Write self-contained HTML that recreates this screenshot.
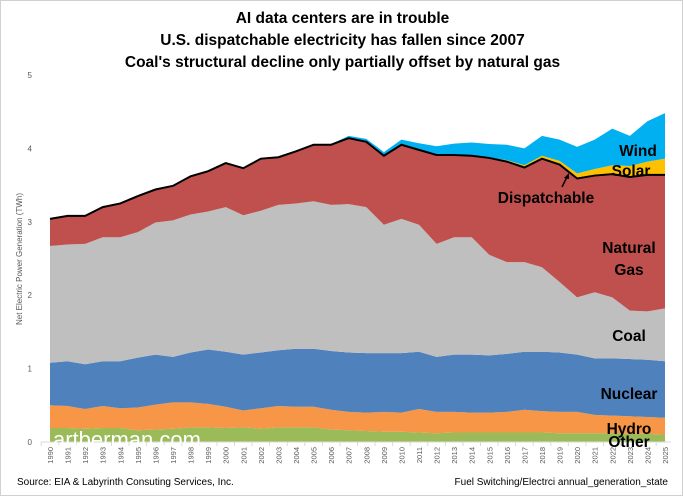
<!DOCTYPE html>
<html><head><meta charset="utf-8"><style>
body{margin:0;background:#fff}
#c{position:relative;width:683px;height:496px;overflow:hidden;font-family:"Liberation Sans",sans-serif;border:1px solid #d0d0d0;box-sizing:border-box}
.t{position:absolute;left:0;width:683px;text-align:center;font-weight:bold;font-size:15.5px;color:#000}
</style></head><body>
<div id="c">
<div class="t" style="top:9px">AI data centers are in trouble</div>
<div class="t" style="top:31px">U.S. dispatchable electricity has fallen since 2007</div>
<div class="t" style="top:53px">Coal's structural decline only partially offset by natural gas</div>
<svg id="s" width="683" height="496" style="position:absolute;left:0;top:0"></svg>
</div>
<script>
const years=[];for(let y=1990;y<=2025;y++)years.push(String(y));
const other=[0.19,0.19,0.18,0.19,0.19,0.16,0.17,0.18,0.2,0.2,0.19,0.2,0.18,0.2,0.2,0.2,0.17,0.16,0.15,0.14,0.14,0.13,0.12,0.13,0.13,0.13,0.13,0.13,0.13,0.12,0.12,0.12,0.12,0.11,0.11,0.1];
const hydro=[.31,.30,.27,.30,.27,.31,.34,.36,.34,.32,.29,.23,.28,.29,.28,.28,.27,.25,.25,.27,.26,.32,.29,.28,.27,.27,.28,.31,.29,.29,.29,.25,.24,.24,.23,.23];
const nuclear=[.58,.61,.61,.61,.64,.68,.68,.62,.68,.74,.75,.76,.76,.76,.79,.79,.80,.81,.81,.80,.81,.78,.75,.78,.79,.78,.79,.79,.81,.81,.78,.77,.78,.78,.78,.77];
const coal=[1.59,1.59,1.64,1.69,1.69,1.71,1.80,1.86,1.88,1.88,1.97,1.90,1.93,1.98,1.98,2.01,1.99,2.02,1.99,1.75,1.83,1.73,1.54,1.60,1.60,1.37,1.25,1.22,1.15,0.96,0.78,0.90,0.83,0.66,0.66,0.72];
const gas=[.37,.39,.38,.41,.46,.49,.45,.47,.52,.55,.60,.64,.71,.65,.71,.77,.82,.90,.89,.94,1.01,1.02,1.21,1.12,1.11,1.32,1.37,1.29,1.48,1.60,1.62,1.59,1.68,1.82,1.86,1.82];
const solar=[0,0,0,0,0,0,0,0,0,0,0,0,0,0,0,0,0,0,0,0,0,0,0,.005,.01,.01,.02,.03,.04,.05,.07,.09,.12,.15,.18,.22];
const wind=[.01,.01,.01,.01,.01,.01,.01,.01,.01,.01,.01,.01,.01,.01,.01,.01,.01,.03,.04,.05,.07,.09,.12,.15,.17,.18,.21,.23,.27,.29,.36,.40,.50,.41,.55,.62];
const yTicks=["0","1","2","3","4","5"];
const NS='http://www.w3.org/2000/svg';
const svg=document.getElementById('s');
const x0=49,dx=(664-49)/35,yb=441,ys=73.4;
const X=i=>x0+i*dx, Y=v=>yb-v*ys;
function mk(t,a){const e=document.createElementNS(NS,t);for(const k in a)e.setAttribute(k,a[k]);svg.appendChild(e);return e;}
yTicks.forEach(t=>{const e=mk('text',{x:31,y:Y(+t)+3,'font-size':8,fill:'#595959','text-anchor':'end'});e.textContent=t;

});
const series=[['other',other,'#9bbb59'],['hydro',hydro,'#f79646'],['nuclear',nuclear,'#4f81bd'],['coal',coal,'#bfbfbf'],['gas',gas,'#c0504d'],['solar',solar,'#ffc000'],['wind',wind,'#00b0f0']];
let base=years.map(()=>0);let disp=null;
series.forEach(([n,v,c],si)=>{
 const top=base.map((b,i)=>b+v[i]);
 let d='M'+top.map((t,i)=>X(i)+','+Y(t)).join(' L');
 for(let i=years.length-1;i>=0;i--)d+=' L'+X(i)+','+Y(base[i]);
 const p=mk('path',{d:d+'Z',fill:c});
 
 
 base=top;if(n==='gas')disp=top.slice();
});
const dl=mk('polyline',{points:disp.map((t,i)=>X(i)+','+Y(t)).join(' '),fill:'none',stroke:'#000','stroke-width':2});


mk('line',{x1:40,x2:670,y1:yb,y2:yb,stroke:'#d9d9d9'});
years.forEach((yr,i)=>{
 mk('line',{x1:X(i)-dx/2,x2:X(i)-dx/2,y1:yb,y2:yb+4,stroke:'#d9d9d9'});
 const e=mk('text',{x:0,y:0,'font-size':7.5,fill:'#595959','text-anchor':'end',transform:`translate(${X(i)+3},${yb+5}) rotate(-90)`});
 e.textContent=yr;
 
 
});
function tx(s,x,y,sz,o){const e=mk('text',Object.assign({x:x,y:y,'font-size':sz,'font-weight':'bold',fill:'#000','text-anchor':'middle'},o||{}));e.textContent=s;return e;}
let e;
e=tx('Wind',637,155,15.5);
e=tx('Solar',630,175,15.5);
e=tx('Dispatchable',545,202,15.5);
e=tx('Natural',628,252,15.5);
e=tx('Gas',628,274,15.5);
e=tx('Coal',628,340,15.5);
e=tx('Nuclear',628,398,15.5);
e=tx('Hydro',628,433,15.5);
e=tx('Other',628,446,15.5);
mk('line',{x1:561,y1:186,x2:566,y2:176,stroke:'#000','stroke-width':1.5});
mk('path',{d:'M568,172 L563,177 L568,178Z',fill:'#000'});
e=mk('text',{x:52,y:446,'font-size':22,fill:'#fff'});e.textContent='artberman.com';

e=mk('text',{x:0,y:0,'font-size':8,fill:'#595959','text-anchor':'middle',transform:'translate(21,258) rotate(-90)'});e.textContent='Net Electric Power Generation (TWh)';

e=mk('text',{x:16,y:484,'font-size':10,fill:'#000'});e.textContent='Source: EIA & Labyrinth Consuting Services, Inc.';

e=mk('text',{x:667,y:484,'font-size':10,fill:'#000','text-anchor':'end'});e.textContent='Fuel Switching/Electrci annual_generation_state';

</script>
</body></html>
